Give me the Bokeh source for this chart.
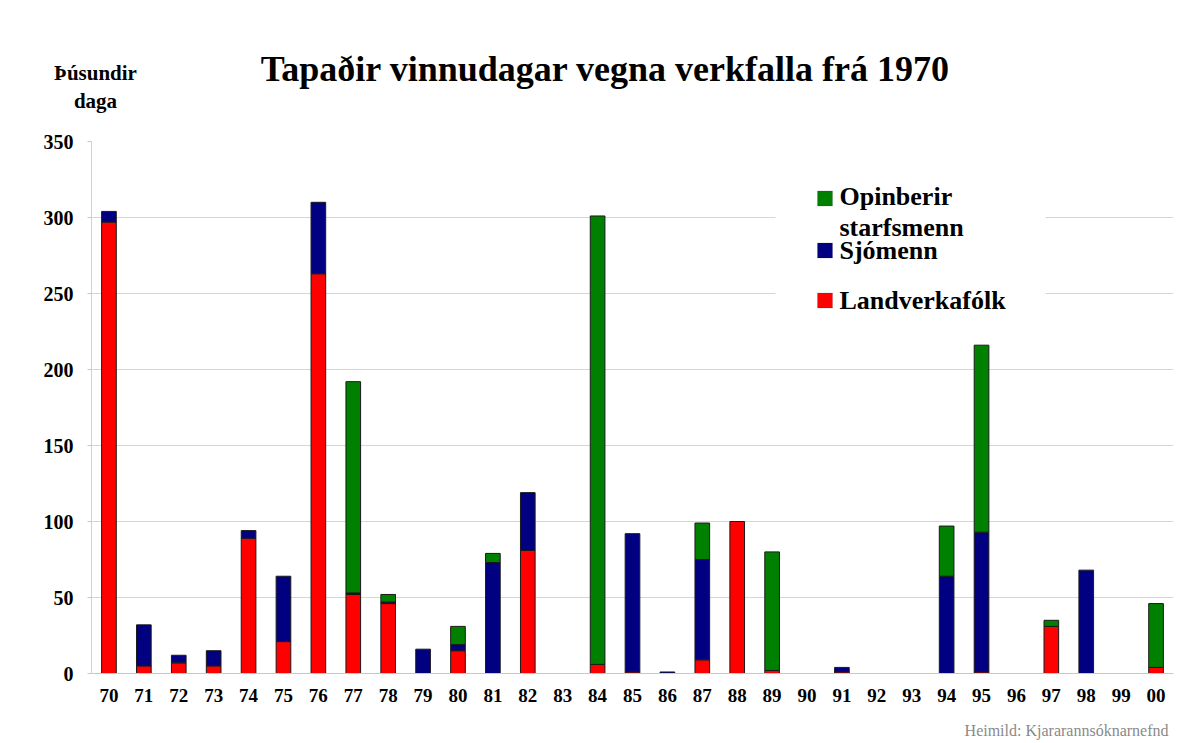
from bokeh.plotting import figure
from bokeh.layouts import column
from bokeh.models import FactorRange, Range1d, Label, BoxAnnotation, FixedTicker
from bokeh.embed import file_html
from bokeh.resources import INLINE

# ---------------- data (thousand lost work days) ----------------
years = ["70", "71", "72", "73", "74", "75", "76", "77", "78", "79",
         "80", "81", "82", "83", "84", "85", "86", "87", "88", "89",
         "90", "91", "92", "93", "94", "95", "96", "97", "98", "99", "00"]

landverkafolk = [297, 5, 7, 5, 89, 21, 263, 52, 46, 0,
                 15, 0, 81, 0, 6, 1, 0, 9, 100, 2,
                 0, 1, 0, 0, 0, 1, 0, 31, 0, 0, 4]

sjomenn = [7, 27, 5, 10, 5, 43, 47, 1, 1, 16,
           4, 73, 38, 0, 0, 91, 1, 66, 0, 0,
           0, 3, 0, 0, 64, 92, 0, 0, 68, 0, 0]

opinberir = [0, 0, 0, 0, 0, 0, 0, 139, 5, 0,
             12, 6, 0, 0, 295, 0, 0, 24, 0, 78,
             0, 0, 0, 0, 33, 123, 0, 4, 0, 0, 42]

series_names = ["Landverkafólk", "Sjómenn", "Opinberir starfsmenn"]
series_colors = ["#ff0000", "#000080", "#008000"]

title_text = "Tapaðir vinnudagar vegna verkfalla frá 1970"
ylabel_lines = ["Þúsundir", "daga"]
source_text = "Heimild:  Kjararannsóknarnefnd"
y_ticks = [0, 50, 100, 150, 200, 250, 300, 350]

# ---------------- layout (page pixels) ----------------
W = 1177
HH = 120            # header height (title, y label)
MH = 595            # main chart height
FH_ = 25            # footer height (source)
FL, FR, FT, FB = 91, 1173, 141, 673   # frame edges on the page
YMAX = 350
N = len(years)

def xd(px):
    return (px - FL) / (FR - FL) * N

def yd(py):
    return (FB - py) / (FB - FT) * YMAX

SERIF = "Liberation Serif"

def text_panel(height):
    f = figure(width=W, height=height, x_range=Range1d(0, W), y_range=Range1d(height, 0),
               x_axis_location=None, y_axis_location=None, title=None,
               output_backend="svg", toolbar_location=None, min_border=0)
    f.grid.visible = False
    f.outline_line_color = None
    f.background_fill_color = "white"
    f.border_fill_color = "white"
    try:
        f.frame_align = False
    except Exception:
        pass
    return f

# header
hdr = text_panel(HH)
hdr.add_layout(Label(x=605, y=68, text=title_text,
                     text_font=SERIF, text_font_style="bold",
                     text_font_size="36px", text_align="center",
                     text_baseline="middle", text_color="black"))
for line, py in zip(ylabel_lines, [72, 100]):
    hdr.add_layout(Label(x=95, y=py, text=line,
                         text_font=SERIF, text_font_style="bold",
                         text_font_size="21px", text_align="center",
                         text_baseline="middle", text_color="black"))

# main chart
p = figure(width=W, height=MH, title=None,
           x_range=FactorRange(*years), y_range=Range1d(0, YMAX),
           output_backend="svg", toolbar_location=None,
           min_border_left=FL, min_border_right=W - FR,
           min_border_top=FT - HH, min_border_bottom=HH + MH - FB)
p.outline_line_color = None
p.background_fill_color = "white"
p.border_fill_color = "white"

stack = [0] * N
for vals, color in zip([landverkafolk, sjomenn, opinberir], series_colors):
    xs, bs, ts = [], [], []
    for i in range(N):
        if vals[i] > 0:
            xs.append(years[i])
            bs.append(stack[i])
            ts.append(stack[i] + vals[i])
        stack[i] += vals[i]
    p.vbar(x=xs, bottom=bs, top=ts, width=0.42,
           fill_color=color, line_color="#1a1a1a", line_width=1)

p.xgrid.grid_line_color = None
p.ygrid.grid_line_color = "#d6d6d6"
p.ygrid.grid_line_width = 1
p.yaxis.ticker = FixedTicker(ticks=y_ticks)
p.yaxis.minor_tick_line_color = None
p.yaxis.major_tick_out = 4
p.yaxis.major_tick_in = 0
p.yaxis.major_tick_line_color = "#c8c8c8"
p.yaxis.axis_line_color = "#d0d0d0"
p.yaxis.major_label_standoff = 14
p.xaxis.major_tick_line_color = None
p.xaxis.axis_line_color = "#c8c8c8"
p.xaxis.major_label_standoff = 9
for ax in (p.xaxis, p.yaxis):
    ax.major_label_text_font = SERIF
    ax.major_label_text_font_style = "bold"
    ax.major_label_text_color = "black"
p.xaxis.major_label_text_font_size = "19px"
p.yaxis.major_label_text_font_size = "20px"

# legend (white panel hiding grid lines, squares and labels)
p.add_layout(BoxAnnotation(left=xd(775), right=xd(1045), top=yd(152), bottom=yd(330),
                           fill_color="white", fill_alpha=1.0, line_color=None))
legend_rows = [
    (series_colors[2], [("Opinberir", 196), ("starfsmenn", 227)], 198),
    (series_colors[1], [("Sjómenn", 250)], 250),
    (series_colors[0], [("Landverkafólk", 300)], 300),
]
for color, lines, sq in legend_rows:
    p.add_layout(BoxAnnotation(left=xd(817), right=xd(832), top=yd(sq - 7.5), bottom=yd(sq + 7.5),
                               fill_color=color, fill_alpha=1.0, line_color="#222222", line_width=0.5))
    for text, py in lines:
        p.add_layout(Label(x=xd(839), y=yd(py), text=text,
                           text_font=SERIF, text_font_style="bold",
                           text_font_size="26px", text_align="left",
                           text_baseline="middle", text_color="black"))

# footer
ftr = text_panel(FH_)
ftr.add_layout(Label(x=1172, y=730 - HH - MH, text=source_text,
                     text_font=SERIF, text_font_size="16px",
                     text_align="right", text_baseline="middle",
                     text_color="#8a8a8a"))

layout = column(hdr, p, ftr, spacing=0)
open("out.html", "w").write(file_html(layout, INLINE))
